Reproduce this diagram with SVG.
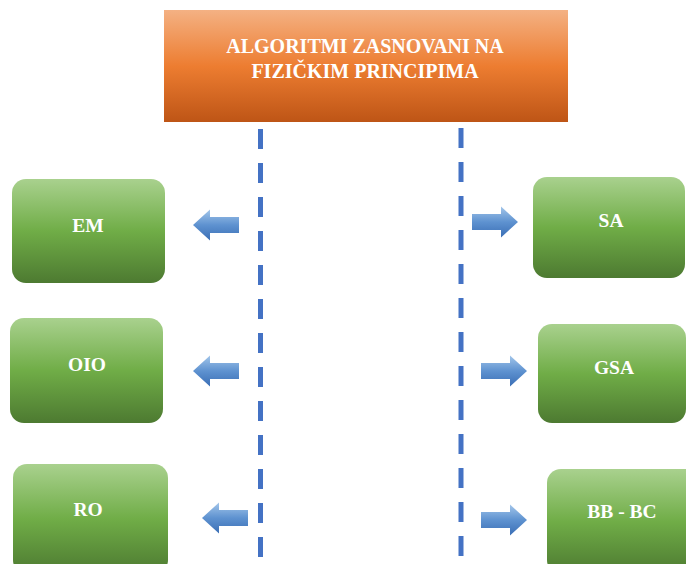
<svg xmlns="http://www.w3.org/2000/svg" width="686" height="564" viewBox="0 0 686 564">
<defs>
<linearGradient id="gOrange" x1="0" y1="0" x2="0" y2="1">
<stop offset="0" stop-color="#F4B183"/>
<stop offset="0.5" stop-color="#ED7D31"/>
<stop offset="1" stop-color="#BE5516"/>
</linearGradient>
<linearGradient id="gGreen" x1="0" y1="0" x2="0" y2="1">
<stop offset="0" stop-color="#A9D18E"/>
<stop offset="0.5" stop-color="#70AD47"/>
<stop offset="1" stop-color="#4D7A31"/>
</linearGradient>
<linearGradient id="gBlue" x1="0" y1="0" x2="0" y2="1">
<stop offset="0" stop-color="#A3C6EA"/>
<stop offset="0.5" stop-color="#5E92D0"/>
<stop offset="1" stop-color="#3A6EB5"/>
</linearGradient>
<path id="arrL" d="M0,0 L17,-15.5 L17,-8 L46,-8 L46,8 L17,8 L17,15.5 Z"/>
<path id="arrR" d="M0,0 L-17,-15.5 L-17,-8 L-46,-8 L-46,8 L-17,8 L-17,15.5 Z"/>
</defs>
<style>
.node{fill:url(#gGreen);}
.title{fill:url(#gOrange);}
.lbl{font-family:"Liberation Serif","Times New Roman",serif;font-weight:bold;fill:#FFFFFF;text-anchor:middle;font-size:19.5px;}
.tl{font-size:20px;}
.dash{stroke:#4472C4;stroke-width:5;stroke-dasharray:20 14;fill:none;}
.arrow{fill:url(#gBlue);}
</style>
<rect width="686" height="564" fill="#FFFFFF"/>
<g id="title">
<rect class="title" x="164" y="10" width="404" height="112"/>
<text class="lbl tl" x="365" y="53">ALGORITMI ZASNOVANI NA</text>
<text class="lbl tl" x="365" y="78">FIZIČKIM PRINCIPIMA</text>
</g>
<g id="connectors">
<line class="dash" x1="260.5" y1="129" x2="260.5" y2="564"/>
<line class="dash" x1="461" y1="128" x2="461" y2="564"/>
<use class="arrow" href="#arrL" x="193" y="225"/>
<use class="arrow" href="#arrL" x="193" y="371"/>
<use class="arrow" href="#arrL" x="202" y="518"/>
<use class="arrow" href="#arrR" x="518" y="222"/>
<use class="arrow" href="#arrR" x="527" y="371"/>
<use class="arrow" href="#arrR" x="527" y="520"/>
</g>
<g id="node-em">
<rect class="node" x="12" y="179" width="153" height="104" rx="14"/>
<text class="lbl" x="88" y="232">EM</text>
</g>
<g id="node-oio">
<rect class="node" x="10" y="318" width="153" height="105" rx="14"/>
<text class="lbl" x="87" y="371">OIO</text>
</g>
<g id="node-ro">
<rect class="node" x="13" y="464" width="155" height="110" rx="14"/>
<text class="lbl" x="88" y="516">RO</text>
</g>
<g id="node-sa">
<rect class="node" x="533" y="177" width="152" height="101" rx="14"/>
<text class="lbl" x="611" y="227">SA</text>
</g>
<g id="node-gsa">
<rect class="node" x="538" y="324" width="148" height="99" rx="14"/>
<text class="lbl" x="614" y="374">GSA</text>
</g>
<g id="node-bbbc">
<rect class="node" x="547" y="469" width="152" height="105" rx="14"/>
<text class="lbl" x="622" y="518">BB - BC</text>
</g>
</svg>
